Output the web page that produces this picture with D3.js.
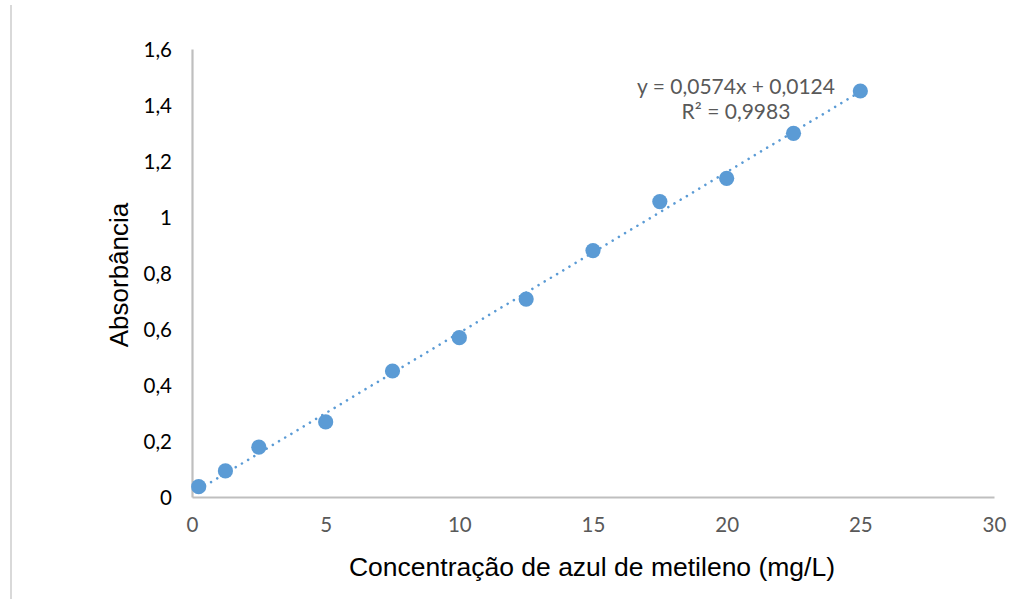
<!DOCTYPE html>
<html>
<head>
<meta charset="utf-8">
<script src="https://cdn.jsdelivr.net/npm/d3@7"></script>
<style>
  html, body { margin: 0; padding: 0; background: #fff; }
  svg { display: block; }
</style>
</head>
<body>
<svg id="chart" width="1015" height="599"></svg>
<script>
const concentrations = [0.25, 1.25, 2.5, 5, 7.5, 10, 12.5, 15, 17.5, 20, 22.5, 25];
const absorbances = [0.037, 0.093, 0.178, 0.268, 0.45, 0.569, 0.707, 0.88, 1.055, 1.138, 1.299, 1.45];
const xTicks = [0, 5, 10, 15, 20, 25, 30];
const yTicks = [0, 0.2, 0.4, 0.6, 0.8, 1, 1.2, 1.4, 1.6];
const slope = 0.0574, intercept = 0.0124;
const equationLines = ["y = 0,0574x + 0,0124", "R\u00B2 = 0,9983"];
const xTitle = "Concentração de azul de metileno (mg/L)";
const yTitle = "Absorbância";

const svg = d3.select("#chart");
const x = d3.scaleLinear().domain([0, 30]).range([192, 994]);
const y = d3.scaleLinear().domain([0, 1.6]).range([497, 49]);
const blue = "#5B9BD5";
const tickFont = "Lato, 'Open Sans', sans-serif";
const fmt = v => String(v).replace(".", ",");

// left border
svg.append("line").attr("x1", 11).attr("x2", 11).attr("y1", 5).attr("y2", 599)
  .attr("stroke", "#D9D9D9").attr("stroke-width", 2);

// axes
const xAxis = svg.append("g").attr("transform", `translate(0,${y(0)})`)
  .call(d3.axisBottom(x).tickValues(xTicks).tickSize(0).tickPadding(20).tickFormat(fmt));
const yAxis = svg.append("g").attr("transform", `translate(${x(0)},0)`)
  .call(d3.axisLeft(y).tickValues(yTicks).tickSize(0).tickPadding(20).tickFormat(fmt));
[xAxis, yAxis].forEach(g => {
  g.select(".domain").attr("stroke", "#BFBFBF").attr("stroke-width", 2.2);
  g.selectAll("text").attr("font-family", tickFont).attr("font-size", 20.5);
});
xAxis.selectAll("text").attr("fill", "#595959");
yAxis.selectAll("text").attr("fill", "#000").attr("dy", "0.36em");

// trendline
const xs = d3.extent(concentrations);
svg.append("line")
  .attr("x1", x(xs[0])).attr("y1", y(slope * xs[0] + intercept))
  .attr("x2", x(xs[1])).attr("y2", y(slope * xs[1] + intercept))
  .attr("stroke", blue).attr("stroke-width", 2.6)
  .attr("stroke-dasharray", "0.01 7.2").attr("stroke-linecap", "round");

// points
svg.append("g").selectAll("circle").data(concentrations).join("circle")
  .attr("cx", d => x(d)).attr("cy", (d, i) => y(absorbances[i]))
  .attr("r", 7.6).attr("fill", blue);

// equation
svg.append("text").attr("x", 736).attr("y", 94).attr("text-anchor", "middle")
  .attr("font-family", tickFont).attr("font-size", 21).attr("fill", "#595959")
  .selectAll("tspan").data(equationLines).join("tspan")
  .attr("x", 736).attr("dy", (d, i) => i ? 25 : 0).text(d => d);

// titles
svg.append("text").attr("x", 592).attr("y", 576).attr("text-anchor", "middle")
  .attr("font-family", "'Liberation Sans', Arial, sans-serif").attr("font-size", 26.5)
  .attr("fill", "#000").text(xTitle);
svg.append("text").attr("transform", "translate(128,275) rotate(-90)").attr("text-anchor", "middle")
  .attr("font-family", "'Liberation Sans', Arial, sans-serif").attr("font-size", 26)
  .attr("fill", "#000").text(yTitle);
</script>
</body>
</html>
